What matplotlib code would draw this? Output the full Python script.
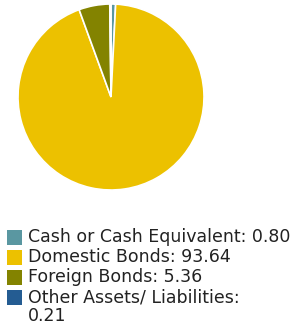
import matplotlib.pyplot as plt
from matplotlib.patches import Rectangle

# data
labels = ['Cash or Cash Equivalent', 'Domestic Bonds', 'Foreign Bonds', 'Other Assets/ Liabilities']
values = [0.80, 93.64, 5.36, 0.21]
colors = ['#5a97a1', '#ecc100', '#838300', '#245c92']
legend_text = ['Cash or Cash Equivalent: 0.80', 'Domestic Bonds: 93.64',
               'Foreign Bonds: 5.36', 'Other Assets/ Liabilities:\n0.21']

W, H = 294, 330
fig = plt.figure(figsize=(W / 100, H / 100), dpi=100)

# pie area: center (111, 97), radius 93 px
r = 93
ax = fig.add_axes([(111 - r) / W, 1 - (97 + r) / H, 2 * r / W, 2 * r / H])
ax.pie(values, colors=colors, startangle=90, counterclock=False,
       wedgeprops=dict(edgecolor='white', linewidth=1.2))
ax.set_xlim(-1, 1)
ax.set_ylim(-1, 1)
ax.set_aspect('equal')
ax.axis('off')

# legend, drawn by hand
y0 = 237
step = 20
for i, txt in enumerate(legend_text):
    yc = y0 + i * step
    fig.patches.append(Rectangle((7 / W, 1 - (yc + 8) / H), 15 / W, 15 / H,
                                 transform=fig.transFigure, facecolor=colors[i],
                                 edgecolor='none'))
    fig.text(28 / W, 1 - (yc - 9) / H, txt, fontsize=12.5, va='top', ha='left',
             color='#222222', linespacing=1.1)

fig.savefig('out.png', dpi=100)
